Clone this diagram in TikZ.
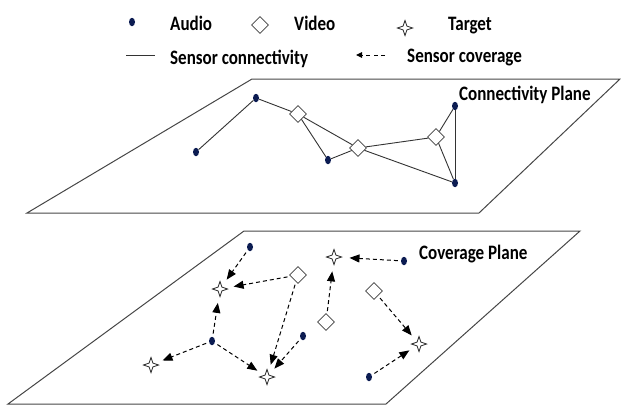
\documentclass[tikz,border=0pt]{standalone}
\usepackage{fontspec}
\setmainfont{Carlito}
\newfontfamily\lblfont{Carlito}[FakeStretch=0.83]
\usetikzlibrary{shapes.geometric,arrows.meta}
\definecolor{navy}{RGB}{12,28,82}
\definecolor{planegray}{RGB}{70,70,70}
\tikzset{
  audio/.style={ellipse,fill=navy,inner sep=0pt,minimum width=6pt,minimum height=8.5pt},
  video/.style={diamond,draw=black!75,fill=white,line width=0.8pt,inner sep=0pt,minimum width=17pt,minimum height=17pt},
  target/.style={star,star points=4,star point ratio=2.8,draw=black!85,fill=white,line width=0.8pt,inner sep=0pt,minimum size=15pt},
  lbl/.style={font=\lblfont\fontsize{20.5}{24}\selectfont\bfseries,inner sep=0pt,anchor=base west},
  plane/.style={draw=planegray,line width=1pt},
  conn/.style={draw=black!80,line width=0.9pt},
  cov/.style={draw=black,line width=1pt,dash pattern=on 4pt off 3pt,-{Triangle[length=10pt,width=8pt]},shorten >=8pt,shorten <=3pt}
}
\begin{document}
\begin{tikzpicture}[x=1pt,y=-1pt]
\useasboundingbox (0,0) rectangle (621,407);
% legend
\node[audio] (la) at (132,22) {};
\node[lbl] (ta) at (170,30) {Audio};
\node[video] (lv) at (260,25) {};
\node[lbl] (tv) at (294,30) {Video};
\node[target] (lt) at (405,28) {};
\node[lbl] (tt) at (448,30) {Target};
\coordinate (lc1) at (126,55);
\coordinate (lc2) at (155,55);
\draw[conn] (lc1) -- (lc2);
\node[lbl] (tc) at (170,64.5) {Sensor connectivity};
\coordinate (lk1) at (385,55);
\coordinate (lk2) at (356,55);
\draw[draw=black,line width=1pt,dash pattern=on 4pt off 3.5pt,-{Triangle[length=6pt,width=5.5pt]}] (lk1) -- (lk2);
\node[lbl] (tk) at (407,62) {Sensor coverage};
% connectivity plane
\coordinate (p1) at (252,79);
\coordinate (p2) at (620,79);
\coordinate (p3) at (479,213);
\coordinate (p4) at (27,213);
\draw[plane] (p1) -- (p2) -- (p3) -- (p4) -- cycle;
\node[lbl] (cp) at (459,100) {Connectivity Plane};
\node[audio] (a1) at (196,152) {};
\node[audio] (a2) at (256,98) {};
\node[video] (v1) at (298,114) {};
\node[audio] (a3) at (328,160) {};
\node[video] (v2) at (358,148) {};
\node[video] (v3) at (436,137) {};
\node[audio] (a4) at (455,106) {};
\node[audio] (a5) at (455,183) {};
\draw[conn] (a1) -- (a2);
\draw[conn] (a2) -- (v1);
\draw[conn] (v1) -- (a3);
\draw[conn] (v1) -- (v2);
\draw[conn] (a3) -- (v2);
\draw[conn] (v2) -- (v3);
\draw[conn] (v2) -- (a5);
\draw[conn] (v3) -- (a4);
\draw[conn] (v3) -- (a5);
\draw[conn] (a4) -- (a5);
% coverage plane
\coordinate (q1) at (244,231);
\coordinate (q2) at (580,231);
\coordinate (q3) at (386,404);
\coordinate (q4) at (8,404);
\draw[plane] (q1) -- (q2) -- (q3) -- (q4) -- cycle;
\node[lbl] (cvp) at (419,259) {Coverage Plane};
\node[audio] (ba1) at (250,247) {};
\node[target] (bt1) at (220,289) {};
\node[video] (bv1) at (298,275) {};
\node[target] (bt2) at (334,257) {};
\node[audio] (ba2) at (404,261) {};
\node[video] (bv2) at (374,291) {};
\node[video] (bv3) at (326,322) {};
\node[audio] (ba3) at (212,341) {};
\node[target] (bt3) at (151,365) {};
\node[audio] (ba4) at (303,336) {};
\node[target] (bt4) at (267,377) {};
\node[target] (bt5) at (419,344) {};
\node[audio] (ba5) at (369,377) {};
\draw[cov] (ba1) -- (bt1);
\draw[cov] (bv1) -- (bt1);
\draw[cov] (ba3) -- (bt1);
\draw[cov] (ba3) -- (bt3);
\draw[cov] (ba3) -- (bt4);
\draw[cov] (bv1) -- (bt4);
\draw[cov] (ba4) -- (bt4);
\draw[cov] (bv3) -- (bt2);
\draw[cov] (ba2) -- (bt2);
\draw[cov] (bv2) -- (bt5);
\draw[cov] (ba5) -- (bt5);
\end{tikzpicture}
\end{document}
